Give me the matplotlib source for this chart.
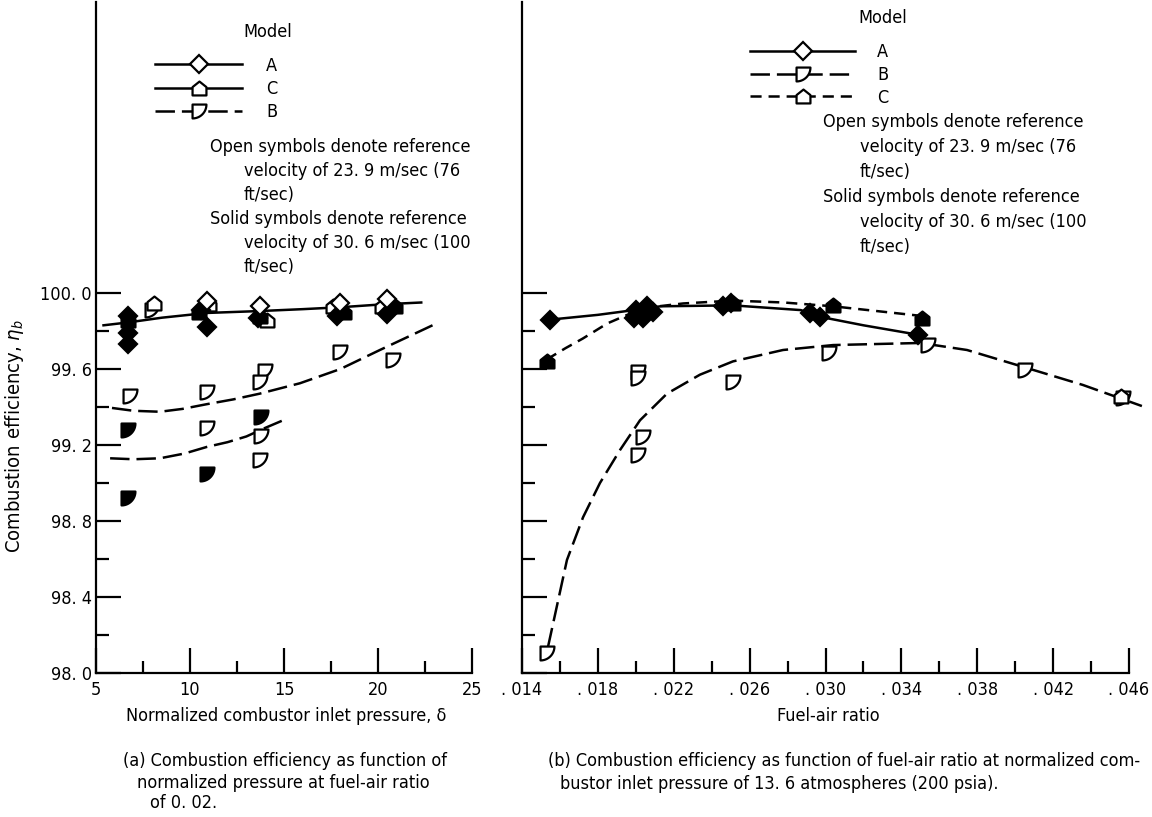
import numpy as np
import matplotlib; matplotlib.use('Agg'); import matplotlib.pyplot as plt
from matplotlib import font_manager
from matplotlib.lines import Line2D
from matplotlib.path import Path

# ---------- data ----------
# (a) efficiency vs normalized pressure delta, fuel-air ratio 0.02
a_A_open_x  = [10.9, 13.7, 18.0, 20.5]
a_A_open_y  = [99.96, 99.93, 99.95, 99.97]
a_A_solid_x = [6.7, 6.7, 6.7, 10.6, 10.9, 13.6, 17.8, 20.5]
a_A_solid_y = [99.88, 99.79, 99.73, 99.91, 99.82, 99.87, 99.88, 99.89]
a_C_open_x  = [8.1, 11.0, 14.1, 17.6, 20.2]
a_C_open_y  = [99.95, 99.94, 99.86, 99.93, 99.93]
a_C_solid_x = [6.7, 10.5, 13.7, 18.2, 20.9]
a_C_solid_y = [99.86, 99.90, 99.88, 99.90, 99.93]
a_B_open_x  = [6.8, 8.0, 10.9, 10.9, 14.0, 13.7, 13.8, 13.7, 18.0, 20.8]
a_B_open_y  = [99.46, 99.91, 99.48, 99.29, 99.59, 99.53, 99.25, 99.12, 99.69, 99.65]
a_B_solid_x = [6.7, 6.7, 10.9, 13.8]
a_B_solid_y = [99.28, 98.92, 99.05, 99.35]
# faired curves
a_A_fit_x = [5.4, 6.7, 8.5, 10.9, 13.7, 16.0, 18.0, 20.2, 22.3]
a_A_fit_y = [99.83, 99.845, 99.87, 99.895, 99.905, 99.915, 99.925, 99.94, 99.95]
a_Bhi_fit_x = [5.85, 7.0, 8.4, 9.6, 10.9, 12.3, 13.7, 15.85, 18.0, 20.1, 22.9]
a_Bhi_fit_y = [99.395, 99.38, 99.375, 99.39, 99.415, 99.44, 99.47, 99.525, 99.60, 99.70, 99.83]
a_Blo_fit_x = [5.75, 7.0, 8.4, 9.7, 10.9, 12.0, 13.0, 14.0, 14.95]
a_Blo_fit_y = [99.13, 99.125, 99.13, 99.155, 99.19, 99.215, 99.245, 99.29, 99.33]

# (b) efficiency vs fuel-air ratio, delta = 13.6
b_A_solid_x = [.0155, .0199, .0200, .0204, .0206, .0209, .0246, .0250, .0292, .0297, .0349]
b_A_solid_y = [99.86, 99.87, 99.91, 99.87, 99.93, 99.90, 99.93, 99.95, 99.895, 99.875, 99.78]
b_C_solid_x = [.0153, .0205, .0251, .0304, .0351]
b_C_solid_y = [99.64, 99.91, 99.95, 99.935, 99.87]
b_C_open_x  = [.0456]
b_C_open_y  = [99.46]
b_B_open_x  = [.0153, .0201, .0201, .0204, .0201, .0251, .0302, .0354, .0405, .0457]
b_B_open_y  = [98.105, 99.585, 99.555, 99.24, 99.15, 99.53, 99.685, 99.725, 99.595, 99.45]
b_A_fit_x = [.0155, .0180, .0199, .0213, .0251, .0287, .0297, .0320, .0349]
b_A_fit_y = [99.86, 99.885, 99.91, 99.93, 99.935, 99.91, 99.875, 99.83, 99.78]
b_C_fit_x = [.0153, .0163, .0172, .0185, .0199, .0212, .0225, .0251, .0278, .0304, .0350]
b_C_fit_y = [99.65, 99.71, 99.76, 99.84, 99.90, 99.93, 99.945, 99.96, 99.95, 99.93, 99.88]
b_B_fit_x = [.01537, .01637, .01722, .01811, .01917, .02022, .02164, .02338, .02512, .02776,
             .0304, .0350, .03746, .04046, .04357, .04668]
b_B_fit_y = [98.137, 98.595, 98.82, 99.0, 99.174, 99.33, 99.47, 99.57, 99.64, 99.70,
             99.726, 99.737, 99.70, 99.61, 99.516, 99.405]

y_major = [98.0, 98.4, 98.8, 99.2, 99.6, 100.0]
y_minor = [98.2, 98.6, 99.0, 99.4, 99.8]
y_labels = ['98. 0', '98. 4', '98. 8', '99. 2', '99. 6', '100. 0']
xa_major = [5, 10, 15, 20, 25]; xa_minor = [7.5, 12.5, 17.5, 22.5]
xa_labels = ['5', '10', '15', '20', '25']
xb_major = [.014, .018, .022, .026, .030, .034, .038, .042, .046]
xb_minor = [.016, .020, .024, .028, .032, .036, .040, .044]
xb_labels = ['. 014', '. 018', '. 022', '. 026', '. 030', '. 034', '. 038', '. 042', '. 046']

# ---------- style ----------
# narrow face if one is installed (the original lettering is condensed)
names = {f.name for f in font_manager.fontManager.ttflist}
fams = [n for n in ('DejaVu Sans Condensed', 'Liberation Sans Narrow') if n in names] + ['DejaVu Sans']
plt.rcParams['font.family'] = fams
if any(f.stretch == 'condensed' for f in font_manager.fontManager.ttflist if f.name == 'DejaVu Sans'):
    plt.rcParams['font.stretch'] = 'condensed'
FS = 13
plt.rcParams['lines.scale_dashes'] = False

t = np.linspace(0, np.pi/2, 14)
mB = Path(np.vstack([[[-0.5, 0.5]], np.c_[-0.5 + np.cos(t), 0.5 - np.sin(t)], [[-0.5, 0.5]]]), closed=True)
mC = Path([(-0.5, -0.5), (0.5, -0.5), (0.5, 0.1), (0, 0.5), (-0.5, 0.1), (-0.5, -0.5)], closed=True)
LW = 1.8; DB = (14, 5); DC = (8, 5)
MK = dict(ls='none', mew=1.6, mec='black', zorder=5, clip_on=False)

W, H = 1152, 817
fig = plt.figure(figsize=(W/100, H/100), dpi=100)
axA = fig.add_axes([96/W, 1-673/H, (472-96)/W, 671/H])
axB = fig.add_axes([522/W, 1-673/H, (1129-522)/W, 671/H])

for ax in (axA, axB):
    ax.set_ylim(98.0, 100 + 291/190)
    for s in ('top', 'right'): ax.spines[s].set_visible(False)
    for s in ('left', 'bottom'): ax.spines[s].set_linewidth(1.6)
    ax.set_yticks(y_major); ax.set_yticks(y_minor, minor=True)
    ax.tick_params(which='both', direction='in', width=1.6, labelsize=FS)
    ax.tick_params(axis='y', pad=3); ax.tick_params(axis='x', pad=6)
    ax.tick_params(which='major', length=18); ax.tick_params(which='minor', length=9)
axA.set_yticklabels(y_labels); axB.set_yticklabels([])
axA.set_xlim(5, 25); axA.set_xticks(xa_major); axA.set_xticks(xa_minor, minor=True); axA.set_xticklabels(xa_labels)
axB.set_xlim(.014, .046); axB.set_xticks(xb_major); axB.set_xticks(xb_minor, minor=True); axB.set_xticklabels(xb_labels)

def pts(ax, x, y, m, filled, ms=10):
    ax.plot(x, y, marker=m, ms=ms, mfc='black' if filled else 'white', **MK)

# panel (a)
axA.plot(a_A_fit_x, a_A_fit_y, '-', color='black', lw=LW)
axA.plot(a_Bhi_fit_x, a_Bhi_fit_y, color='black', lw=LW, dashes=DB)
axA.plot(a_Blo_fit_x, a_Blo_fit_y, color='black', lw=LW, dashes=DB)
pts(axA, a_B_open_x, a_B_open_y, mB, False); pts(axA, a_B_solid_x, a_B_solid_y, mB, True)
pts(axA, a_C_open_x, a_C_open_y, mC, False); pts(axA, a_C_solid_x, a_C_solid_y, mC, True)
pts(axA, a_A_solid_x, a_A_solid_y, 'D', True, 9); pts(axA, a_A_open_x, a_A_open_y, 'D', False, 9)

# panel (b)
axB.plot(b_A_fit_x, b_A_fit_y, '-', color='black', lw=LW)
axB.plot(b_C_fit_x, b_C_fit_y, color='black', lw=LW, dashes=DC)
axB.plot(b_B_fit_x, b_B_fit_y, color='black', lw=LW, dashes=DB, clip_on=False)
pts(axB, b_B_open_x, b_B_open_y, mB, False); pts(axB, b_C_open_x, b_C_open_y, mC, False)
pts(axB, b_C_solid_x, b_C_solid_y, mC, True); pts(axB, b_A_solid_x, b_A_solid_y, 'D', True, 9)

# legends
def h(m, ms, **kw): return Line2D([], [], color='black', lw=LW, marker=m, ms=ms, mfc='white', mec='black', mew=1.6, **kw)
legA = [h('D', 9), h(mC, 10), h(mB, 10, dashes=DB)]
legB = [h('D', 9), h(mB, 10, dashes=DB), h(mC, 10, dashes=DC)]
px = FS*100/72
axA.legend(legA, ['A', 'C', 'B'], loc='center left', bbox_to_anchor=(155/W, 1-89/H), bbox_transform=fig.transFigure,
           frameon=False, fontsize=FS, handlelength=87/px, handletextpad=24/px, labelspacing=0.3,
           borderpad=0, borderaxespad=0, numpoints=1)
axB.legend(legB, ['A', 'B', 'C'], loc='center left', bbox_to_anchor=(750/W, 1-75/H), bbox_transform=fig.transFigure,
           frameon=False, fontsize=FS, handlelength=105/px, handletextpad=22/px, labelspacing=0.25,
           borderpad=0, borderaxespad=0, numpoints=1)

def ft(x, y, s, **kw):
    fig.text(x/W, 1-y/H, s, fontsize=FS, va='center', **kw)

ft(268, 32, 'Model', ha='center'); ft(883, 18, 'Model', ha='center')
note = ['Open symbols denote reference', 'velocity of 23. 9 m/sec (76', 'ft/sec)',
        'Solid symbols denote reference', 'velocity of 30. 6 m/sec (100', 'ft/sec)']
for i, s in enumerate(note):
    ind = 0 if s[0] in 'OS' else 34
    ft(210 + ind, 147 + 24*i, s)
    ft(823 + (0 if ind == 0 else 37), 122 + 25*i, s)

fig.text(15/W, 1-436/H, r'Combustion efficiency, $\eta_b$', rotation=90, fontsize=14.5, ha='center', va='center')
ft(286, 716, 'Normalized combustor inlet pressure, δ', ha='center')
ft(828, 716, 'Fuel-air ratio', ha='center')
ft(123, 761, '(a) Combustion efficiency as function of')
ft(137, 783, 'normalized pressure at fuel-air ratio')
ft(150, 803, 'of 0. 02.')
ft(548, 761, '(b) Combustion efficiency as function of fuel-air ratio at normalized com-')
ft(560, 784, 'bustor inlet pressure of 13. 6 atmospheres (200 psia).')

fig.savefig('out.png', dpi=100)
